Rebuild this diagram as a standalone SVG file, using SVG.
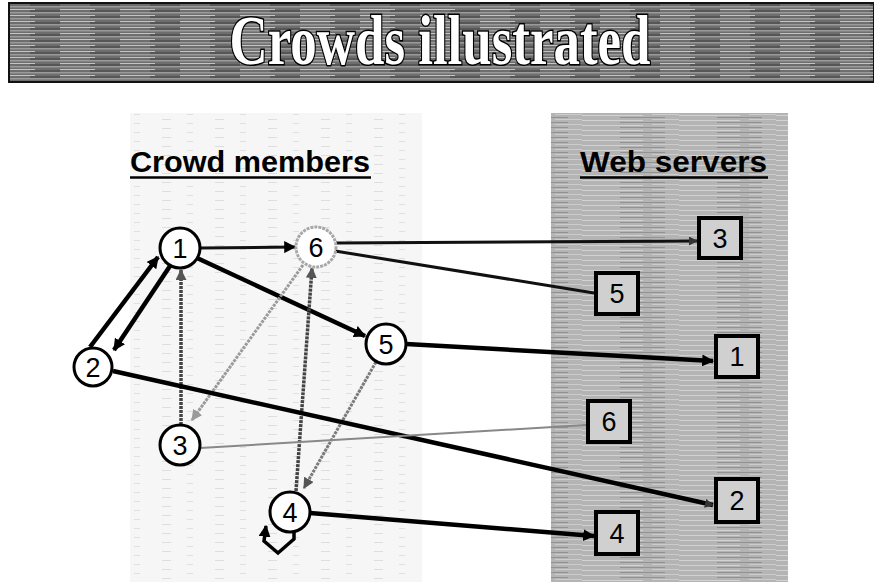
<svg xmlns="http://www.w3.org/2000/svg" width="874" height="582" viewBox="0 0 874 582">
<defs>
<pattern id="barTex" width="60" height="6" patternUnits="userSpaceOnUse">
<rect width="60" height="6" fill="#6e6e6e"/>
<rect y="0" width="60" height="1.5" fill="#9a9a9a"/>
<rect y="3" width="35" height="1" fill="#c4c4c4"/>
<rect x="30" y="4.5" width="30" height="1" fill="#3e3e3e"/>
</pattern>
<pattern id="webTex" width="97" height="5" patternUnits="userSpaceOnUse">
<rect width="97" height="5" fill="#b4b4b4"/>
<rect y="0" width="61" height="1" fill="#d2d2d2"/>
<rect x="38" y="2" width="45" height="1" fill="#929292"/>
<rect x="70" y="4" width="27" height="1" fill="#cccccc"/>
</pattern>
<pattern id="lightTex" width="53" height="9" patternUnits="userSpaceOnUse">
<rect width="53" height="9" fill="#f6f6f6"/>
<rect x="3" y="2" width="9" height="1" fill="#dedede"/>
<rect x="28" y="6" width="6" height="1" fill="#e0e0e0"/>
</pattern>
<marker id="ah" viewBox="0 0 10 10" refX="9" refY="5" markerWidth="12" markerHeight="12" markerUnits="userSpaceOnUse" orient="auto">
<path d="M0,0 L10,5 L0,10 z" fill="#000"/>
</marker>
<marker id="ahs" viewBox="0 0 10 10" refX="9" refY="5" markerWidth="9" markerHeight="9" markerUnits="userSpaceOnUse" orient="auto">
<path d="M0,0 L10,5 L0,10 z" fill="#333"/>
</marker>
<marker id="ahg" viewBox="0 0 10 10" refX="9" refY="5" markerWidth="11" markerHeight="11" markerUnits="userSpaceOnUse" orient="auto">
<path d="M0,0 L10,5 L0,10 z" fill="#555"/>
</marker>
<marker id="ahl" viewBox="0 0 10 10" refX="9" refY="5" markerWidth="11" markerHeight="11" markerUnits="userSpaceOnUse" orient="auto">
<path d="M0,0 L10,5 L0,10 z" fill="#9a9a9a"/>
</marker>
</defs>
<style>
.num{font-family:"Liberation Sans",Arial,sans-serif;font-size:27px;text-anchor:middle;fill:#000}
.crc{fill:#fff;stroke:#000;stroke-width:3}
.crcl{fill:#fff;stroke:#a8a8a8;stroke-width:3;stroke-dasharray:3 1}
.box{fill:#d0d0d0;stroke:#000;stroke-width:4}
.hdr{font-family:"Liberation Sans",Arial,sans-serif;font-weight:bold;font-size:29px;fill:#000}
.thick{stroke:#000;stroke-width:4.5;fill:none}
.med{stroke:#111;stroke-width:3;fill:none}
.grain{stroke:#444;stroke-width:3.5;fill:none;stroke-dasharray:3 1}
.light{stroke:#9a9a9a;stroke-width:3;fill:none;stroke-dasharray:3 1}
.lightd{stroke:#7a7a7a;stroke-width:3;fill:none;stroke-dasharray:3 1}
.thin{stroke:#888;stroke-width:2;fill:none}
.loop{stroke:#000;stroke-width:3.5;fill:none;stroke-linejoin:miter}
</style>
<rect width="874" height="582" fill="#fff"/>
<g id="title">
<rect x="9" y="3" width="865" height="79" fill="url(#barTex)" stroke="#111" stroke-width="2"/>
<text x="440" y="64" font-family="'Liberation Serif','Times New Roman',serif" font-weight="bold" font-size="70" text-anchor="middle" textLength="421" lengthAdjust="spacingAndGlyphs" fill="#fff" stroke="#000" stroke-width="3" paint-order="stroke">Crowds illustrated</text>
</g>
<g id="panels">
<rect x="130" y="113" width="292" height="469" fill="url(#lightTex)"/>
<rect x="551" y="113" width="237" height="469" fill="url(#webTex)"/>
</g>
<g id="headers">
<text class="hdr" x="130" y="172" textLength="240" lengthAdjust="spacingAndGlyphs">Crowd members</text>
<line x1="130" y1="177.5" x2="371" y2="177.5" stroke="#000" stroke-width="2.5"/>
<text class="hdr" x="580" y="172" textLength="187" lengthAdjust="spacingAndGlyphs">Web servers</text>
<line x1="580" y1="177.5" x2="768" y2="177.5" stroke="#000" stroke-width="2.5"/>
</g>
<g id="connectors">
<line class="med" x1="200" y1="248" x2="295" y2="247" marker-end="url(#ah)"/>
<line class="med" x1="336" y1="243" x2="697" y2="241" marker-end="url(#ahs)"/>
<line class="med" x1="335" y1="251" x2="594" y2="293"/>
<line class="thick" x1="197" y1="258" x2="365" y2="336" marker-end="url(#ah)"/>
<line class="thick" x1="406" y1="344" x2="713" y2="361" marker-end="url(#ah)"/>
<line class="thick" x1="90" y1="347" x2="158" y2="257" marker-end="url(#ah)"/>
<line class="thick" x1="170" y1="266" x2="114" y2="350" marker-end="url(#ah)"/>
<line class="grain" x1="181" y1="425" x2="181" y2="270" marker-end="url(#ahg)"/>
<line class="light" x1="303" y1="265" x2="192" y2="420" marker-end="url(#ahl)"/>
<line class="grain" x1="296" y1="491" x2="312" y2="268" marker-end="url(#ahg)"/>
<line class="lightd" x1="376" y1="362" x2="304" y2="488" marker-end="url(#ahg)"/>
<line class="thick" x1="113" y1="371" x2="713" y2="505" marker-end="url(#ahs)"/>
<line class="thin" x1="200" y1="448" x2="586" y2="425"/>
<line class="thick" x1="310" y1="513" x2="594" y2="536" marker-end="url(#ah)"/>
<path class="loop" d="M294,531 L294,539 L278,553 L264,541 L266,526" marker-end="url(#ah)"/>
</g>
<g id="node1"><circle class="crc" cx="180" cy="248" r="20"/><text class="num" x="180" y="258">1</text></g>
<g id="node2"><circle class="crc" cx="93" cy="367" r="19"/><text class="num" x="93" y="377">2</text></g>
<g id="node3"><circle class="crc" cx="180" cy="445" r="20"/><text class="num" x="180" y="455">3</text></g>
<g id="node4"><circle class="crc" cx="290" cy="512" r="20"/><text class="num" x="290" y="522">4</text></g>
<g id="node5"><circle class="crc" cx="386" cy="344" r="20"/><text class="num" x="386" y="354">5</text></g>
<g id="node6"><circle class="crcl" cx="316" cy="247" r="20"/><text class="num" x="316" y="257">6</text></g>
<g id="server3"><rect class="box" x="699" y="218" width="42" height="40"/><text class="num" x="720" y="248">3</text></g>
<g id="server5"><rect class="box" x="596" y="273" width="42" height="41"/><text class="num" x="617" y="303">5</text></g>
<g id="server1"><rect class="box" x="716" y="336" width="42" height="41"/><text class="num" x="737" y="366">1</text></g>
<g id="server6"><rect class="box" x="588" y="401" width="42" height="41"/><text class="num" x="609" y="431">6</text></g>
<g id="server2"><rect class="box" x="716" y="479" width="42" height="43"/><text class="num" x="737" y="510">2</text></g>
<g id="server4"><rect class="box" x="596" y="512" width="42" height="42"/><text class="num" x="617" y="543">4</text></g>
</svg>
